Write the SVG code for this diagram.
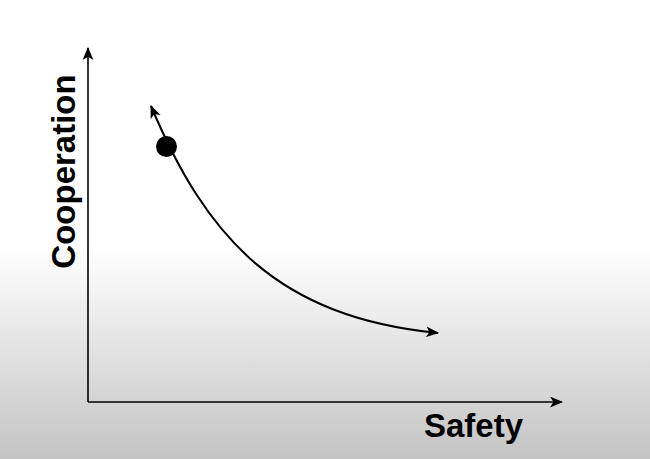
<svg xmlns="http://www.w3.org/2000/svg" width="650" height="459" viewBox="0 0 650 459">
<defs>
<linearGradient id="bg" x1="0" y1="0" x2="0" y2="1">
<stop offset="0.54" stop-color="#ffffff"/>
<stop offset="1" stop-color="#c4c4c4"/>
</linearGradient>
<marker id="ah" viewBox="0 0 12 10" refX="11" refY="5" markerWidth="13" markerHeight="11" markerUnits="userSpaceOnUse" orient="auto-start-reverse">
<path d="M0,0 L12,5 L0,10 L3,5 Z" fill="#000"/>
</marker>
</defs>
<style>
.ax{fill:none;stroke:#000;stroke-width:1.6}
.cv{fill:none;stroke:#000;stroke-width:2}
.lbl{font-family:"Liberation Sans",Arial,sans-serif;font-weight:bold;font-size:33px;fill:#000}
</style>
<rect x="0" y="0" width="650" height="459" fill="url(#bg)"/>
<g id="connectors">
<path id="y-axis" class="ax" d="M88,402 L88,48" marker-end="url(#ah)"/>
<path id="x-axis" class="ax" d="M88,402 L562,402" marker-end="url(#ah)"/>
<path id="curve" class="cv" d="M151,106 C207,239 278,317 438,333" marker-start="url(#ah)" marker-end="url(#ah)"/>
</g>
<g id="point"><circle cx="166.5" cy="146.5" r="10.5" fill="#000"/></g>
<g id="label-cooperation"><text class="lbl" transform="translate(74.5,171.5) rotate(-90)" text-anchor="middle">Cooperation</text></g>
<g id="label-safety"><text class="lbl" x="424" y="437">Safety</text></g>
</svg>
